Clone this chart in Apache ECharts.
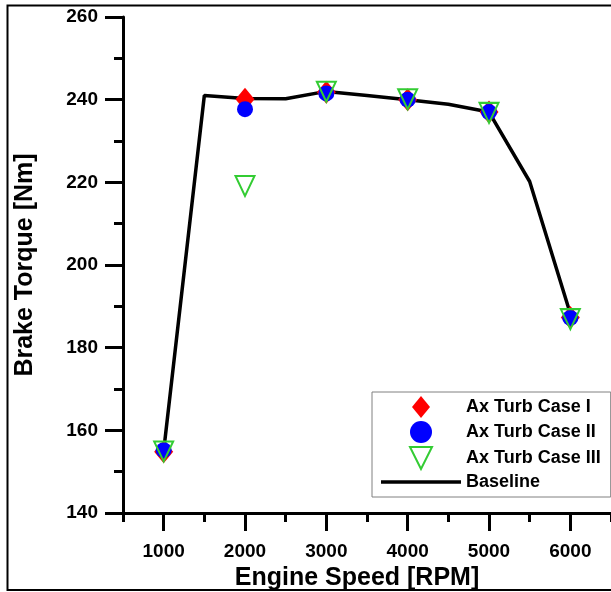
<!DOCTYPE html>
<html>
<head>
<meta charset="utf-8">
<script src="https://cdn.jsdelivr.net/npm/echarts@6/dist/echarts.min.js"></script>
<style>
html,body{margin:0;padding:0;background:#fff;}
#chart{width:611px;height:592px;}
</style>
</head>
<body>
<div id="chart"></div>
<script>
// ---- data ----
const rpm = [1000, 2000, 3000, 4000, 5000, 6000];
const caseI = [154.8, 240.1, 241.8, 240.0, 237.0, 187.3];
const caseII = [155.2, 237.7, 241.5, 240.0, 237.0, 187.2];
const caseIII = [154.9, 219.1, 241.9, 240.1, 236.8, 186.9];
const baseRpm = [1000, 1500, 2000, 2500, 3000, 3500, 4000, 4500, 5000, 5500, 6000];
const baseline = [155, 241, 240.3, 240.2, 242, 241, 240, 238.9, 237, 220.2, 188.2];
const xTickLabels = [1000, 2000, 3000, 4000, 5000, 6000];
const seriesNames = ['Ax Turb Case I', 'Ax Turb Case II', 'Ax Turb Case III', 'Baseline'];

const FONT = "'Liberation Sans', Arial, sans-serif";
const pair = (xs, ys) => xs.map((x, i) => [x, ys[i]]);

const chart = echarts.init(document.getElementById('chart'), null, {renderer: 'canvas'});
chart.setOption({
  animation: false,
  backgroundColor: '#fff',
  textStyle: {fontFamily: FONT},
  graphic: [{
    type: 'rect', silent: true, z: -10,
    shape: {x: 7.5, y: 5.5, width: 700, height: 584.5},
    style: {fill: 'none', stroke: '#000', lineWidth: 2}
  }],
  grid: {left: 123, top: 17, width: 488, height: 496, containLabel: false, outerBoundsMode: 'none'},
  xAxis: [{
    type: 'value', min: 500, max: 6500, interval: 500,
    position: 'bottom', offset: 0,
    name: 'Engine Speed [RPM]', nameLocation: 'middle', nameGap: 51,
    nameTextStyle: {fontSize: 25, fontWeight: 'bold', color: '#000', fontFamily: FONT, padding: [0, 20, 0, 0]},
    axisLine: {show: true, onZero: false, lineStyle: {color: '#000', width: 3}},
    axisTick: {show: true, length: 18, customValues: xTickLabels, lineStyle: {color: '#000', width: 3}},
    axisLabel: {show: true, customValues: xTickLabels, formatter: v => String(v), margin: 29, fontSize: 19, fontWeight: 'bold', color: '#000', fontFamily: FONT},
    splitLine: {show: false}
  }, {
    type: 'value', min: 500, max: 6500, interval: 500,
    position: 'bottom', offset: 0,
    axisLine: {show: false, onZero: false},
    axisTick: {show: true, length: 9, lineStyle: {color: '#000', width: 3}},
    axisLabel: {show: false},
    splitLine: {show: false}
  }],
  yAxis: {
    type: 'value', min: 140, max: 260, interval: 20,
    name: 'Brake Torque [Nm]', nameLocation: 'middle', nameGap: 85,
    nameTextStyle: {fontSize: 25, fontWeight: 'bold', color: '#000', fontFamily: FONT},
    axisLine: {show: true, onZero: false, lineStyle: {color: '#000', width: 3}},
    axisTick: {show: true, length: 18, lineStyle: {color: '#000', width: 3}},
    minorTick: {show: true, splitNumber: 2, length: 9, lineStyle: {color: '#000', width: 3}},
    axisLabel: {margin: 25, fontSize: 19, fontWeight: 'bold', color: '#000', fontFamily: FONT},
    splitLine: {show: false},
    minorSplitLine: {show: false}
  },
  legend: {
    orient: 'vertical', left: 372, top: 392,
    padding: [4, 10, 6, 9],
    itemWidth: 80, itemHeight: 22, itemGap: 3,
    borderColor: '#808080', borderWidth: 1, backgroundColor: '#fff',
    selectedMode: false,
    textStyle: {fontSize: 18, fontWeight: 'bold', color: '#000', fontFamily: FONT},
    data: [
      {name: seriesNames[0], icon: 'path://M9,0L18,11L9,22L0,11Z'},
      {name: seriesNames[1], icon: 'circle'},
      {name: seriesNames[2], icon: 'path://M0,0L21,0L10.5,21Z'},
      {name: seriesNames[3], icon: 'path://M0,0L80,0L80,3.5L0,3.5Z'}
    ]
  },
  series: [{
    name: seriesNames[3], type: 'line', xAxisIndex: 0, z: 2,
    data: pair(baseRpm, baseline),
    symbol: 'none', showSymbol: false,
    lineStyle: {color: '#000', width: 3.5},
    itemStyle: {color: '#000'}
  }, {
    name: seriesNames[0], type: 'scatter', xAxisIndex: 0, z: 3,
    data: pair(rpm, caseI),
    symbol: 'diamond', symbolSize: [19, 23],
    itemStyle: {color: '#ff0000', opacity: 1}
  }, {
    name: seriesNames[1], type: 'scatter', xAxisIndex: 0, z: 4,
    data: pair(rpm, caseII),
    symbol: 'circle', symbolSize: 16,
    itemStyle: {color: '#0000ff', opacity: 1}
  }, {
    name: seriesNames[2], type: 'scatter', xAxisIndex: 0, z: 5,
    data: pair(rpm, caseIII),
    symbol: 'triangle', symbolRotate: 180, symbolSize: [19, 20],
    itemStyle: {color: 'rgba(255,255,255,0)', borderColor: '#33cc33', borderWidth: 2, opacity: 1}
  }]
});
</script>
</body>
</html>
